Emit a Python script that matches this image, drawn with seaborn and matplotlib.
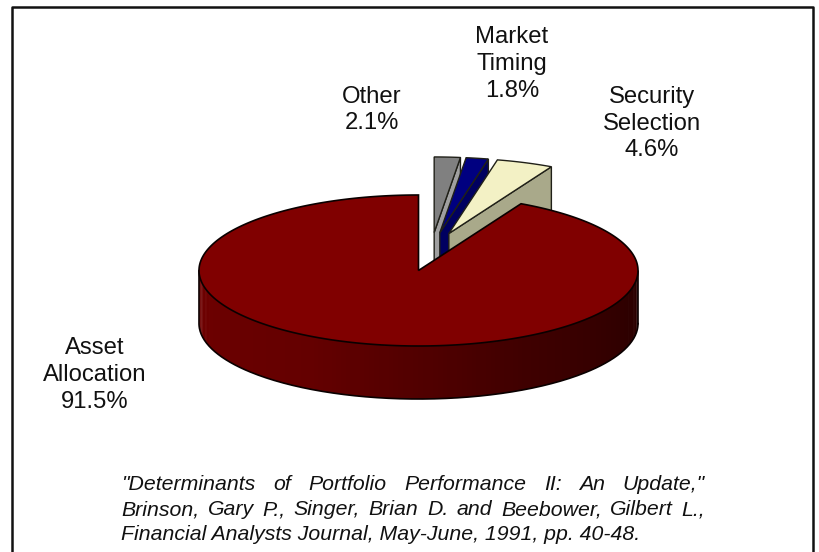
import numpy as np
import matplotlib
matplotlib.use("Agg")
import matplotlib.pyplot as plt
from matplotlib.patches import Polygon
import seaborn as sns

# Return attribution shares, percent
categories = ["Asset\nAllocation", "Other", "Market\nTiming", "Security\nSelection"]
shares = [91.5, 2.1, 1.8, 4.6]
share_labels = ["91.5%", "2.1%", "1.8%", "4.6%"]

CITATION = [
    '"Determinants of Portfolio Performance II: An Update,"',
    "Brinson, Gary P., Singer, Brian D. and Beebower, Gilbert L.,",
    "Financial Analysts Journal, May-June, 1991, pp. 40-48.",
]

sns.set_theme(style="white")
plt.rcParams["font.family"] = ["Liberation Sans", "DejaVu Sans"]

W, H = 819, 552
fig = plt.figure(figsize=(W / 100, H / 100), dpi=100)
ax = fig.add_axes([0, 0, 1, 1])
ax.set_xlim(0, W)
ax.set_ylim(H, 0)
ax.axis("off")

# Pie geometry on the pixel canvas
CX, CY = 418.5, 270.5
RX, RY = 219.5, 75.5
DEPTH = 53
FORESHORTEN = 0.91
EXPLODE = 0.233
SHIFT = (12.6, -20.5)

EDGE = "#0a0000"
TOP = {"Other": "#808080", "Market\nTiming": "#000080", "Security\nSelection": "#f3f1c5"}
WALL = {"Other": "#a0a0a0", "Market\nTiming": "#000060", "Security\nSelection": "#a9a98a"}


def rim(t):
    """Point on the rim of a unit pie; t in degrees clockwise from 12 o'clock."""
    r = np.radians(t)
    return RX * np.sin(r), -RY * np.cos(r)


def sector(a, b, n=180):
    ts = np.linspace(a, b, n)
    xs, ys = rim(ts)
    return xs, ys


# Wedge boundaries follow the shares; the back wedges shrink slightly in this view
back_shares = np.array(shares[1:])
bounds = np.concatenate([[0], np.cumsum(back_shares)]) * 3.6 * FORESHORTEN
main_start = bounds[-1]

# Main slice: curved front wall as shaded strips, then the top face
n_strips = 140
wall_cols = sns.blend_palette(["#6f0000", "#640000", "#3f0000", "#280000"], n_strips)
front = np.linspace(90, 270, n_strips + 1)
for c, a, b in zip(wall_cols[::-1], front[:-1], front[1:]):
    xs, ys = sector(a, b + 0.6, 6)
    xs = CX + xs
    ys = CY + ys
    poly = np.r_[np.c_[xs, ys], np.c_[xs[::-1], ys[::-1] + DEPTH]]
    ax.add_patch(Polygon(poly, closed=True, fc=c, ec="none", zorder=2))
xs, ys = sector(90, 270, 240)
outline = np.r_[np.c_[CX + xs, CY + ys + DEPTH], [[CX + xs[-1], CY + ys[-1]]]]
ax.plot(outline[:, 0], outline[:, 1], color=EDGE, lw=1.2, zorder=3)
ax.plot([CX + RX, CX + RX], [CY, CY + DEPTH], color=EDGE, lw=1.2, zorder=3)

# Detached back wedges, drawn first so the main slice overlaps them
for name, a, b in zip(categories[1:], bounds[:-1], bounds[1:]):
    mid = (a + b) / 2
    dx, dy = rim(mid)
    ox = CX + SHIFT[0] + EXPLODE * dx
    oy = CY + SHIFT[1] + EXPLODE * dy
    xs, ys = sector(a, b, 30)
    # cut face toward the viewer along the far boundary
    ex, ey = rim(b)
    side = [[ox, oy], [ox + ex, oy + ey], [ox + ex, oy + ey + DEPTH], [ox, oy + DEPTH]]
    ax.add_patch(Polygon(side, closed=True, fc=WALL[name], ec="#202018", lw=1.0, zorder=1))
    face = np.r_[[[ox, oy]], np.c_[ox + xs, oy + ys]]
    ax.add_patch(Polygon(face, closed=True, fc=TOP[name], ec="#202018", lw=1.0, zorder=1.5))

xs, ys = sector(main_start, 360, 400)
face = np.r_[[[CX, CY]], np.c_[CX + xs, CY + ys]]
ax.add_patch(Polygon(face, closed=True, fc="#800000", ec=EDGE, lw=1.2, zorder=4))

# Slice labels
label_pos = [(95, 375), (372, 110), (512, 64), (652, 123.5)]
for cat, lab, (x, y) in zip(categories, share_labels, label_pos):
    ax.text(x, y, f"{cat}\n{lab}", ha="center", va="center", fontsize=17.2,
            color="#111111", linespacing=1.29, zorder=6)

# Citation: the first two lines are justified to a common right edge
fig.canvas.draw()
renderer = fig.canvas.get_renderer()
LEFT, RIGHT = 121, 705
line_y = [490.5, 515, 539.5]
style = dict(fontsize=15.3, style="italic", color="#111111", va="baseline", ha="left", zorder=6)
for i, (line, y) in enumerate(zip(CITATION, line_y)):
    if i == 2:
        ax.text(LEFT, y, line, **style)
        continue
    words = line.split(" ")
    artists = [ax.text(LEFT, y, w, **style) for w in words]
    widths = [t.get_window_extent(renderer).width for t in artists]
    gap = (RIGHT - LEFT - sum(widths)) / (len(words) - 1)
    x = LEFT
    for t, w in zip(artists, widths):
        t.set_x(x)
        x += w + gap

# Outer frame: left, top and right rules; the lower edge runs off the canvas
ax.plot([11.5, 11.5, 813, 813], [H + 2, 7, 7, H + 2], color="#111111", lw=1.8, zorder=7)

fig.savefig("out.png", dpi=100)
